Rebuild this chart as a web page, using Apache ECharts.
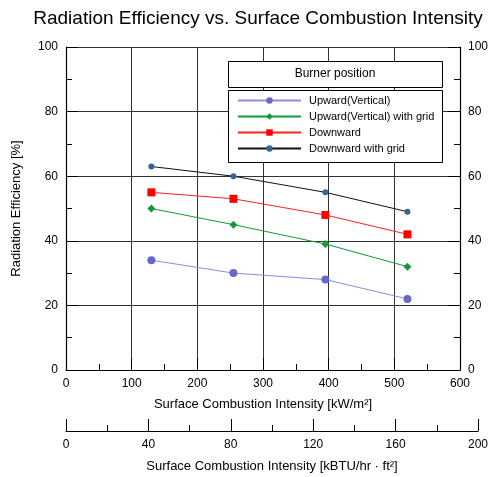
<!DOCTYPE html>
<html>
<head>
<meta charset="utf-8">
<script src="https://cdn.jsdelivr.net/npm/echarts@6/dist/echarts.min.js"></script>
<style>
  html, body { margin: 0; padding: 0; background: #fff; }
  #chart { width: 491px; height: 477px; }
</style>
</head>
<body>
<div id="chart"></div>
<script>
// surface combustion intensity [kW/m2]
const intensity = [130, 255, 395, 520]
// radiation efficiency [%]
const upward = [34, 30, 28, 22]
const upwardGrid = [50, 45, 39, 32]
const downward = [55, 53, 48, 42]
const downwardGrid = [63, 60, 55, 49]
const seriesNames = ['Upward(Vertical)', 'Upward(Vertical) with grid', 'Downward', 'Downward with grid']

const font = 'Liberation Sans, Arial, sans-serif'

function pairs (ys) {
  return intensity.map((x, i) => [x, ys[i]])
}

// 公共坐标轴样式
function axisStyle () {
  return {
    axisLine: { lineStyle: { color: '#000', width: 1.2 } },
    axisTick: { inside: true, length: 12, lineStyle: { color: '#000' } },
    minorTick: { show: true, splitNumber: 2, length: 6, lineStyle: { color: '#000' } },
    axisLabel: { color: '#000', fontFamily: font, fontSize: 12 }
  }
}

function lineSeries (name, data, lineColor, markColor, symbol, size) {
  return {
    name: name,
    type: 'line',
    data: pairs(data),
    symbol: symbol,
    symbolSize: size,
    lineStyle: { color: lineColor, width: 1 },
    itemStyle: { color: markColor },
    xAxisIndex: 0,
    yAxisIndex: 0
  }
}

let chart = echarts.init(document.getElementById('chart'))
chart.setOption({
  animation: false,
  backgroundColor: '#fff',
  title: {
    text: 'Radiation Efficiency vs. Surface Combustion Intensity',
    left: 253,
    textAlign: 'center',
    top: 4,
    textStyle: { fontFamily: font, fontSize: 19, fontWeight: 'normal', color: '#000' }
  },
  grid: [
    { left: 66, right: 30, top: 47, bottom: 107 },
    { left: 66, top: 430, width: 412, height: 1 }
  ],
  xAxis: [
    Object.assign(axisStyle(), {
      type: 'value',
      gridIndex: 0,
      min: 0,
      max: 600,
      interval: 100,
      name: 'Surface Combustion Intensity [kW/m²]',
      nameLocation: 'middle',
      nameGap: 28,
      nameTextStyle: { fontFamily: font, fontSize: 13, color: '#000' },
      splitLine: { show: true, lineStyle: { color: '#333', width: 1 } }
    }),
    Object.assign(axisStyle(), {
      type: 'value',
      gridIndex: 1,
      min: 0,
      max: 200,
      interval: 40,
      name: 'Surface Combustion Intensity [kBTU/hr · ft²]',
      nameLocation: 'middle',
      nameGap: 29,
      nameTextStyle: { fontFamily: font, fontSize: 13, color: '#000' },
      splitLine: { show: false }
    })
  ],
  yAxis: [
    Object.assign(axisStyle(), {
      type: 'value',
      gridIndex: 0,
      min: 0,
      max: 100,
      interval: 20,
      name: 'Radiation Efficiency [%]',
      nameLocation: 'middle',
      nameGap: 43,
      nameTextStyle: { fontFamily: font, fontSize: 13, color: '#000' },
      splitLine: { show: true, lineStyle: { color: '#333', width: 1 } }
    }),
    Object.assign(axisStyle(), {
      type: 'value',
      gridIndex: 0,
      position: 'right',
      min: 0,
      max: 100,
      interval: 20,
      splitLine: { show: false }
    }),
    {
      type: 'value',
      gridIndex: 1,
      show: false
    }
  ],
  legend: {
    orient: 'vertical',
    left: 237,
    top: 95,
    padding: 0,
    itemWidth: 63,
    itemHeight: 8,
    itemGap: 5,
    data: seriesNames,
    textStyle: { fontFamily: font, fontSize: 11, color: '#000', padding: [0, 0, 0, 3] }
  },
  graphic: [
    {
      type: 'rect',
      shape: { x: 228.5, y: 61.5, width: 214, height: 26 },
      style: { fill: '#fff', stroke: '#000', lineWidth: 1 },
      z: 10
    },
    {
      type: 'text',
      x: 335,
      y: 74,
      style: {
        text: 'Burner position',
        fontFamily: font,
        fontSize: 12,
        fill: '#000',
        align: 'center',
        verticalAlign: 'middle'
      },
      z: 11
    },
    {
      type: 'rect',
      shape: { x: 228.5, y: 90.5, width: 214, height: 72 },
      style: { fill: '#fff', stroke: '#000', lineWidth: 1 },
      z: 1
    }
  ],
  series: [
    lineSeries(seriesNames[0], upward, '#8c8ce0', '#6666cc', 'circle', 8),
    lineSeries(seriesNames[1], upwardGrid, '#109a3a', '#109a3a', 'diamond', 8),
    lineSeries(seriesNames[2], downward, '#ff2020', '#ff0000', 'rect', 8),
    lineSeries(seriesNames[3], downwardGrid, '#111', '#336699', 'circle', 6)
  ]
})
</script>
</body>
</html>
